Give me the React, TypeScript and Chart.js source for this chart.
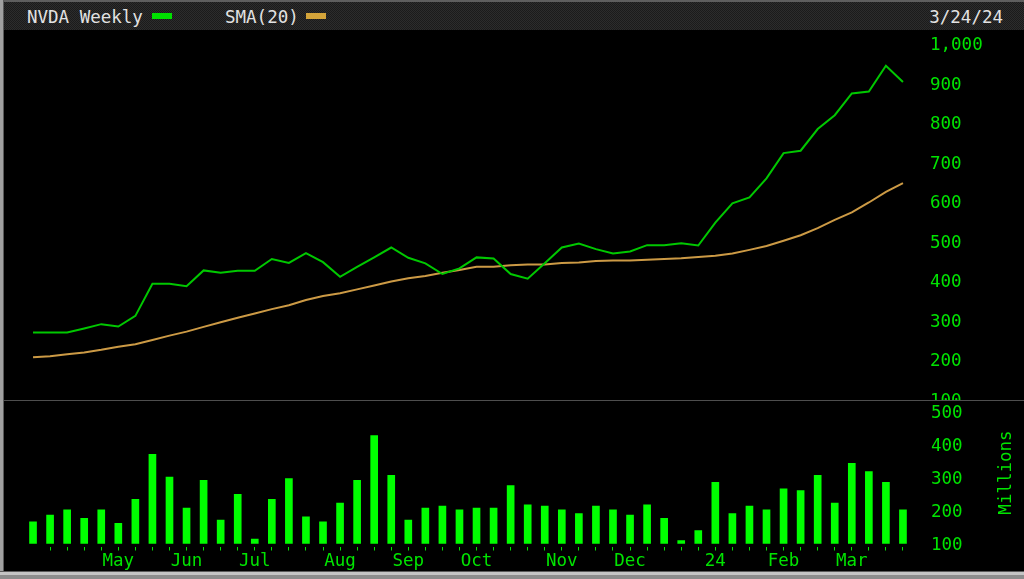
import React, { useEffect, useRef } from 'react';
import { Chart, registerables } from 'chart.js';

Chart.register(...registerables);

// ---- data ----
const weekTicks = [
  '', '', '', '',
  '', 'May', '', '',
  '', 'Jun', '', '',
  '', 'Jul', '', '',
  '', '', 'Aug', '',
  '', '', 'Sep', '',
  '', '', 'Oct', '',
  '', '', '', 'Nov',
  '', '', '', 'Dec',
  '', '', '', '',
  '24', '', '', '',
  'Feb', '', '', '',
  'Mar', '', '', '',
];

const closePrices = [
  268, 268, 268, 278, 289, 283, 310, 391, 391, 385,
  425, 419, 424, 424, 454, 444, 469, 446, 409, 434,
  458, 483, 457, 443, 416, 430, 458, 455, 416, 404,
  443, 483, 493, 479, 468, 473, 489, 489, 494, 488,
  546, 595, 610, 658, 722, 728, 783, 818, 873, 878,
  943, 902,
];

const sma20 = [
  205, 208, 213, 217, 224, 232, 238, 249, 260, 270,
  282, 294, 305, 316, 327, 337, 350, 360, 367, 377,
  387, 397, 405, 411, 419, 426, 434, 434, 438, 440,
  440, 444, 445, 449, 450, 450, 452, 454, 456, 459,
  462, 468, 477, 487, 500, 514, 532, 553, 572, 597,
  624, 646,
];

const volumeM = [
  165, 185, 201, 175, 201, 160, 233, 368, 300, 206,
  290, 170, 248, 113, 233, 295, 180, 165, 221, 290,
  425, 305, 170, 206, 212, 201, 206, 206, 274, 216,
  212, 201, 190, 212, 201, 185, 216, 175, 108, 138,
  284, 190, 212, 201, 264, 259, 305, 221, 341, 316,
  284, 201,
];

const priceTicks = [100, 200, 300, 400, 500, 600, 700, 800, 900, 1000];
const volumeTicks = [100, 200, 300, 400, 500];

const seriesNames = ['NVDA Weekly', 'SMA(20)'];
const dateLabel = '3/24/24';
const volumeTitle = 'Millions';

// ---- styles ----
const FONT = "'DejaVu Sans Mono', monospace";
const FONT_SIZE = 17.5;
const LINE_GREEN = '#00c800';
const BAR_GREEN = '#00ff00';
const TICK_GREEN = '#00e400';
const TAN = '#cc9a45';
const SWATCH_TAN = '#d4a43a';

const millionsPlugin = {
  id: 'millionsTitle',
  afterDraw(chart: any) {
    const ctx = chart.ctx;
    ctx.save();
    ctx.translate(chart.width - 17.5, 84.5);
    ctx.rotate(-Math.PI / 2);
    ctx.font = `${FONT_SIZE}px ${FONT}`;
    ctx.fillStyle = TICK_GREEN;
    ctx.textAlign = 'center';
    ctx.textBaseline = 'middle';
    ctx.fillText(volumeTitle, 0, 0);
    ctx.restore();
  },
};

export default function App() {
  const priceRef = useRef<HTMLCanvasElement>(null);
  const volRef = useRef<HTMLCanvasElement>(null);

  useEffect(() => {
    document.body.style.margin = '0';
    Chart.defaults.font.family = FONT;
    Chart.defaults.font.size = FONT_SIZE;

    const priceChart = new Chart(priceRef.current as HTMLCanvasElement, {
      type: 'line',
      data: {
        labels: weekTicks,
        datasets: [
          {
            label: seriesNames[0],
            data: closePrices,
            borderColor: LINE_GREEN,
            borderWidth: 2,
            pointRadius: 0,
            tension: 0,
          },
          {
            label: seriesNames[1],
            data: sma20,
            borderColor: TAN,
            borderWidth: 2,
            pointRadius: 0,
            tension: 0,
          },
        ],
      },
      options: {
        responsive: false,
        animation: false,
        events: [],
        layout: { padding: { left: 20.5, top: 13.3, right: 0, bottom: 31.2 } },
        plugins: { legend: { display: false }, tooltip: { enabled: false } },
        scales: {
          x: { type: 'category', offset: true, display: false },
          y: {
            position: 'right',
            min: 100,
            max: 1000,
            afterBuildTicks: (s: any) => {
              s.ticks = priceTicks.map((v) => ({ value: v }));
            },
            afterFit: (s: any) => {
              s.width = 112.5;
            },
            ticks: {
              color: TICK_GREEN,
              padding: 0,
              labelOffset: 2.5,
              font: { size: FONT_SIZE },
              callback: (v: any) => Number(v).toLocaleString('en-US'),
            },
            grid: { display: false, drawTicks: true, tickLength: 18.5 },
            border: { display: false },
          },
        },
      },
    } as any);

    const volChart = new Chart(volRef.current as HTMLCanvasElement, {
      type: 'bar',
      data: {
        labels: weekTicks,
        datasets: [
          {
            label: 'Volume',
            data: volumeM,
            backgroundColor: BAR_GREEN,
            borderWidth: 0,
            barThickness: 7,
            base: 100,
          },
        ],
      },
      options: {
        responsive: false,
        animation: false,
        events: [],
        layout: { padding: { left: 20.5, top: 14, right: 0, bottom: 0 } },
        plugins: { legend: { display: false }, tooltip: { enabled: false } },
        scales: {
          x: {
            type: 'category',
            offset: true,
            grid: {
              display: true,
              drawOnChartArea: false,
              drawTicks: true,
              tickLength: 4,
              offset: false,
              lineWidth: 1,
              color: (c: any) => (c.index === 0 ? 'rgba(0,0,0,0)' : TICK_GREEN),
            },
            border: { display: false },
            ticks: {
              autoSkip: false,
              maxRotation: 0,
              minRotation: 0,
              padding: 0,
              color: TICK_GREEN,
              font: { size: FONT_SIZE },
              callback: (_v: any, i: number) => weekTicks[i],
            },
            afterFit: (s: any) => {
              s.height = 24.5;
            },
          },
          y: {
            position: 'right',
            min: 90.35,
            max: 526.2,
            afterBuildTicks: (s: any) => {
              s.ticks = volumeTicks.map((v) => ({ value: v }));
            },
            afterFit: (s: any) => {
              s.width = 112.5;
            },
            ticks: {
              color: TICK_GREEN,
              padding: 0,
              labelOffset: 2.5,
              font: { size: FONT_SIZE },
            },
            grid: { display: false, drawTicks: true, tickLength: 19.5 },
            border: { display: false },
          },
        },
      },
      plugins: [millionsPlugin],
    } as any);

    return () => {
      priceChart.destroy();
      volChart.destroy();
    };
  }, []);

  const headerText: React.CSSProperties = {
    position: 'absolute',
    top: 5,
    fontFamily: FONT,
    fontSize: FONT_SIZE,
    lineHeight: '20px',
    color: '#e2e2e2',
    whiteSpace: 'pre',
  };

  return (
    <div
      style={{
        position: 'fixed',
        left: 0,
        top: 0,
        width: 1024,
        height: 579,
        background: '#000',
        overflow: 'hidden',
      }}
    >
      {/* header */}
      <div
        style={{
          position: 'absolute',
          left: 4,
          top: 0,
          width: 1020,
          height: 30,
          boxSizing: 'border-box',
          borderTop: '2px solid #5e5e5e',
          background:
            'repeating-conic-gradient(#2c2c2c 0% 25%, #1b1b1b 0% 50%) 0 0 / 2px 2px',
        }}
      >
        <span style={{ ...headerText, left: 23 }}>{seriesNames[0]}</span>
        <span
          style={{ position: 'absolute', left: 148, top: 11, width: 20, height: 6, background: '#00e000' }}
        />
        <span style={{ ...headerText, left: 221 }}>{seriesNames[1]}</span>
        <span
          style={{ position: 'absolute', left: 302, top: 11, width: 20, height: 6, background: SWATCH_TAN }}
        />
        <span style={{ ...headerText, right: 21 }}>{dateLabel}</span>
      </div>

      {/* price panel */}
      <div style={{ position: 'absolute', left: 4, top: 30, width: 1020, height: 370, overflow: 'hidden' }}>
        <canvas ref={priceRef} width={1020} height={400} style={{ display: 'block', width: 1020, height: 400 }} />
      </div>

      {/* divider */}
      <div style={{ position: 'absolute', left: 4, top: 400, width: 1020, height: 1, background: '#4e4e4e' }} />

      {/* volume panel */}
      <div style={{ position: 'absolute', left: 4, top: 401, width: 1020, height: 170, overflow: 'hidden' }}>
        <canvas
          ref={volRef}
          width={1020}
          height={183}
          style={{ display: 'block', position: 'absolute', left: 0, top: -13, width: 1020, height: 183 }}
        />
      </div>

      {/* frame */}
      <div style={{ position: 'absolute', left: 0, top: 0, width: 3, height: 579, background: '#a0a0a0' }} />
      <div style={{ position: 'absolute', left: 3, top: 0, width: 1, height: 572, background: '#5a5a5a' }} />
      <div style={{ position: 'absolute', left: 0, top: 571, width: 1024, height: 1, background: '#5a5a5a' }} />
      <div style={{ position: 'absolute', left: 0, top: 572, width: 1024, height: 3, background: '#c4c4c4' }} />
      <div style={{ position: 'absolute', left: 0, top: 575, width: 1024, height: 4, background: '#8c8c8c' }} />
    </div>
  );
}
